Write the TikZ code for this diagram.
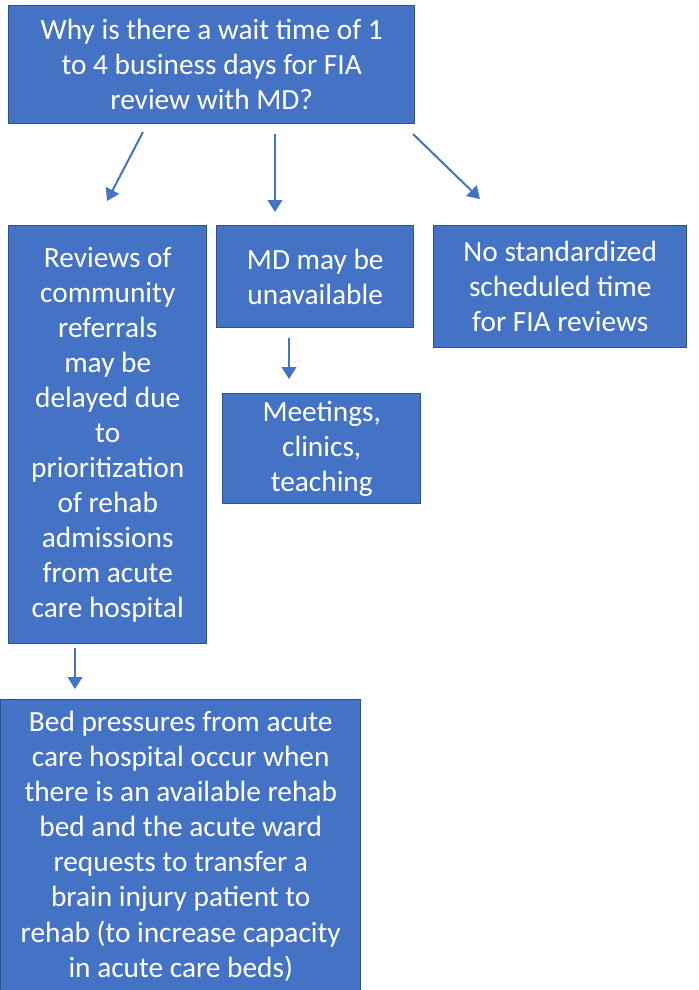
\documentclass[tikz,border=0pt]{standalone}
\usepackage{fontspec}
\setmainfont{Carlito}
\usetikzlibrary{arrows.meta}
\definecolor{boxfill}{HTML}{4472C4}
\definecolor{boxline}{HTML}{2F528F}
\begin{document}
\begin{tikzpicture}[x=0.75pt,y=-0.75pt,
  box/.style={draw=boxline,fill=boxfill,line width=1.1pt,text=white,align=center,
    font=\fontsize{22}{26.3}\selectfont,inner sep=0pt,anchor=north west},
  conn/.style={draw=boxfill,line width=1.5pt,-{Triangle[length=9pt,width=11pt]}}]
\useasboundingbox (0,0) rectangle (699,990);
\node[box,minimum width=406*0.75pt,minimum height=118*0.75pt] (top) at (8,5)
  {Why is there a wait time of 1\\to 4 business days for FIA\\review with MD?};
\node[box,minimum width=198*0.75pt,minimum height=418*0.75pt] (left) at (8,225)
  {Reviews of\\community\\referrals\\may be\\delayed due\\to\\prioritization\\of rehab\\admissions\\from acute\\care hospital};
\node[box,minimum width=197*0.75pt,minimum height=102*0.75pt] (mid) at (216,225)
  {MD may be\\unavailable};
\node[box,minimum width=253*0.75pt,minimum height=122*0.75pt] (right) at (433,225)
  {No standardized\\scheduled time\\for FIA reviews};
\node[box,minimum width=198*0.75pt,minimum height=110*0.75pt] (meet) at (222,393)
  {Meetings,\\clinics,\\teaching};
\node[box,minimum width=360*0.75pt,minimum height=293*0.75pt] (bed) at (0,699)
  {Bed pressures from acute\\care hospital occur when\\there is an available rehab\\bed and the acute ward\\requests to transfer a\\brain injury patient to\\rehab (to increase capacity\\in acute care beds)};
\coordinate (a1s) at (143,132); \coordinate (a1e) at (107,201);
\coordinate (a2s) at (275,134); \coordinate (a2e) at (275,212);
\coordinate (a3s) at (413,134); \coordinate (a3e) at (480,199);
\coordinate (a4s) at (289,338); \coordinate (a4e) at (289,379);
\coordinate (a5s) at (75,648);  \coordinate (a5e) at (75,689);
\draw[conn] (a1s) -- (a1e);
\draw[conn] (a2s) -- (a2e);
\draw[conn] (a3s) -- (a3e);
\draw[conn] (a4s) -- (a4e);
\draw[conn] (a5s) -- (a5e);
\end{tikzpicture}
\end{document}
